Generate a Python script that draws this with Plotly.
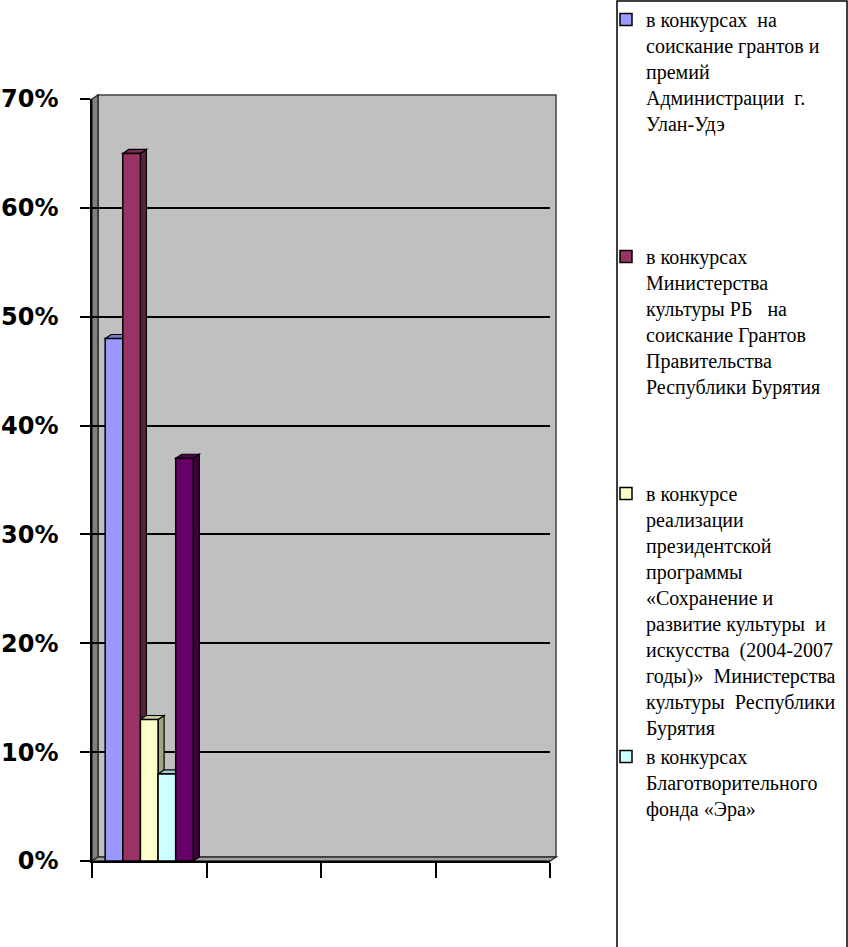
import plotly.graph_objects as go

# ---- data ----
series_names = [
    "в конкурсах  на<br>соискание грантов и<br>премий<br>Администрации  г.<br>Улан-Удэ",
    "в конкурсах<br>Министерства<br>культуры РБ   на<br>соискание Грантов<br>Правительства<br>Республики Бурятия",
    "в конкурсе<br>реализации<br>президентской<br>программы<br>«Сохранение и<br>развитие культуры  и<br>искусства  (2004-2007<br>годы)»  Министерства<br>культуры  Республики<br>Бурятия",
    "в конкурсах<br>Благотворительного<br>фонда «Эра»",
    "",
]
values = [0.48, 0.65, 0.13, 0.08, 0.37]
colors = ["#9999FF", "#993366", "#FFFFCC", "#CCFFFF", "#660066"]
side_colors = ["#6B6BB3", "#5E2040", "#A3A385", "#8FB3B3", "#3D003D"]
top_colors = ["#7A7ACC", "#7A2952", "#CCCCA3", "#A3CCCC", "#520052"]
show_legend = [True, True, True, True, False]
y_ticks = [0, 0.1, 0.2, 0.3, 0.4, 0.5, 0.6, 0.7]
x_cats = [0, 1, 2, 3]

# ---- layout constants (pixels) ----
FW, FH = 848, 947
L, R, T, B = 92, 550, 99, 861
PW, PH = R - L, B - T
XMIN, XMAX = -0.5, 3.5
YMIN, YMAX = 0.0, 0.7
DXP, DYP = 6, 4  # 3D depth in pixels
BARGAP = 0.23
NLINES = 9
SERIF = "Liberation Serif, Times New Roman, DejaVu Serif, serif"

dx = DXP * (XMAX - XMIN) / PW
dy = DYP * (YMAX - YMIN) / PH


def px_to_paper(xp, yp):
    return (xp - L) / PW, (B - yp) / PH


def pad(txt, n):
    k = txt.count("<br>") + 1
    return txt + "<br>\u00a0" * max(0, n - k)


legend_idx = [i for i, s in enumerate(show_legend) if s]
last_legend = legend_idx[-1]

fig = go.Figure()
for i, (nm, v, c) in enumerate(zip(series_names, values, colors)):
    if not show_legend[i]:
        label = "s5"
    elif i == last_legend:
        label = nm
    else:
        label = pad(nm, NLINES)
    fig.add_trace(go.Bar(
        x=[x_cats[0]], y=[v],
        name=label,
        showlegend=show_legend[i],
        marker=dict(color=c, line=dict(color="black", width=1.5)),
        hoverinfo="skip",
    ))

shapes = []
# back wall (extends behind & beyond the plot area for a 3D look)
wx0, wy0 = px_to_paper(L + DXP, T - DYP)
wx1, wy1 = px_to_paper(R + DXP, B - DYP)
shapes.append(dict(type="rect", xref="paper", yref="paper", x0=wx0, x1=wx1, y0=wy1, y1=wy0,
                   fillcolor="#C0C0C0", line=dict(color="#404040", width=1.5), layer="below"))
# left side wall
p = [px_to_paper(L, T), px_to_paper(L + DXP, T - DYP), px_to_paper(L + DXP, B - DYP), px_to_paper(L, B)]
shapes.append(dict(type="path", xref="paper", yref="paper",
                   path="M{},{} L{},{} L{},{} L{},{} Z".format(*[c for pt in p for c in pt]),
                   fillcolor="#808080", line=dict(color="#303030", width=1.5), layer="between"))
# floor
p = [px_to_paper(L, B), px_to_paper(L + DXP, B - DYP), px_to_paper(R + DXP, B - DYP), px_to_paper(R, B)]
shapes.append(dict(type="path", xref="paper", yref="paper",
                   path="M{},{} L{},{} L{},{} L{},{} Z".format(*[c for pt in p for c in pt]),
                   fillcolor="#A0A0A0", line=dict(color="#303030", width=1.5), layer="between"))

# 3D faces of bars computed from the data
n = len(values)
bw = (1 - BARGAP) / n
for i, v in enumerate(values):
    x0 = x_cats[0] - (1 - BARGAP) / 2 + bw * i
    x1 = x0 + bw
    shapes.append(dict(type="path", xref="x", yref="y",
                       path=f"M{x1},{0} L{x1},{v} L{x1+dx},{v+dy} L{x1+dx},{dy} Z",
                       fillcolor=side_colors[i], line=dict(color="black", width=1.2), layer="between"))
    shapes.append(dict(type="path", xref="x", yref="y",
                       path=f"M{x0},{v} L{x0+dx},{v+dy} L{x1+dx},{v+dy} L{x1},{v} Z",
                       fillcolor=top_colors[i], line=dict(color="black", width=1.2), layer="between"))

# legend frame
lx0, ly0 = px_to_paper(617, 1)
lx1, ly1 = px_to_paper(847, FH + 5)
shapes.append(dict(type="rect", xref="paper", yref="paper", x0=lx0, x1=lx1, y0=ly1, y1=ly0,
                   fillcolor="white", line=dict(color="black", width=1.5), layer="below"))

lgx, lgy = px_to_paper(606, 0)

fig.update_layout(
    width=FW, height=FH,
    margin=dict(l=L, r=FW - R, t=T, b=FH - B, pad=0, autoexpand=False),
    paper_bgcolor="white",
    plot_bgcolor="#C0C0C0",
    barmode="group",
    bargap=BARGAP,
    bargroupgap=0,
    showlegend=True,
    legend=dict(
        x=lgx, y=lgy, xanchor="left", yanchor="top",
        font=dict(family=SERIF, size=20, color="black"),
        bgcolor="rgba(0,0,0,0)", borderwidth=0,
        traceorder="normal", valign="top", tracegroupgap=0,
        maxheight=FH,
    ),
    xaxis=dict(
        range=[XMIN, XMAX], tickmode="array",
        tickvals=[c - 0.5 for c in x_cats] + [x_cats[-1] + 0.5],
        ticktext=[""] * (len(x_cats) + 1),
        ticks="outside", ticklen=15, tickwidth=1.5, tickcolor="black",
        showline=True, linecolor="black", linewidth=1.5,
        showgrid=False, zeroline=False, fixedrange=True,
    ),
    yaxis=dict(
        range=[YMIN, YMAX], tickmode="array", tickvals=y_ticks,
        tickformat=".0%",
        ticks="outside", ticklen=10, tickwidth=1.5, tickcolor="black",
        ticklabelstandoff=17,
        tickfont=dict(family="DejaVu Sans", size=24, color="black", weight="bold"),
        showline=True, linecolor="black", linewidth=1.5,
        showgrid=True, gridcolor="black", gridwidth=2,
        zeroline=False, fixedrange=True,
    ),
    shapes=shapes,
    font=dict(family=SERIF),
)

fig.write_html("out.html", config={"displayModeBar": False},
               post_script="document.body.style.margin='0';")
